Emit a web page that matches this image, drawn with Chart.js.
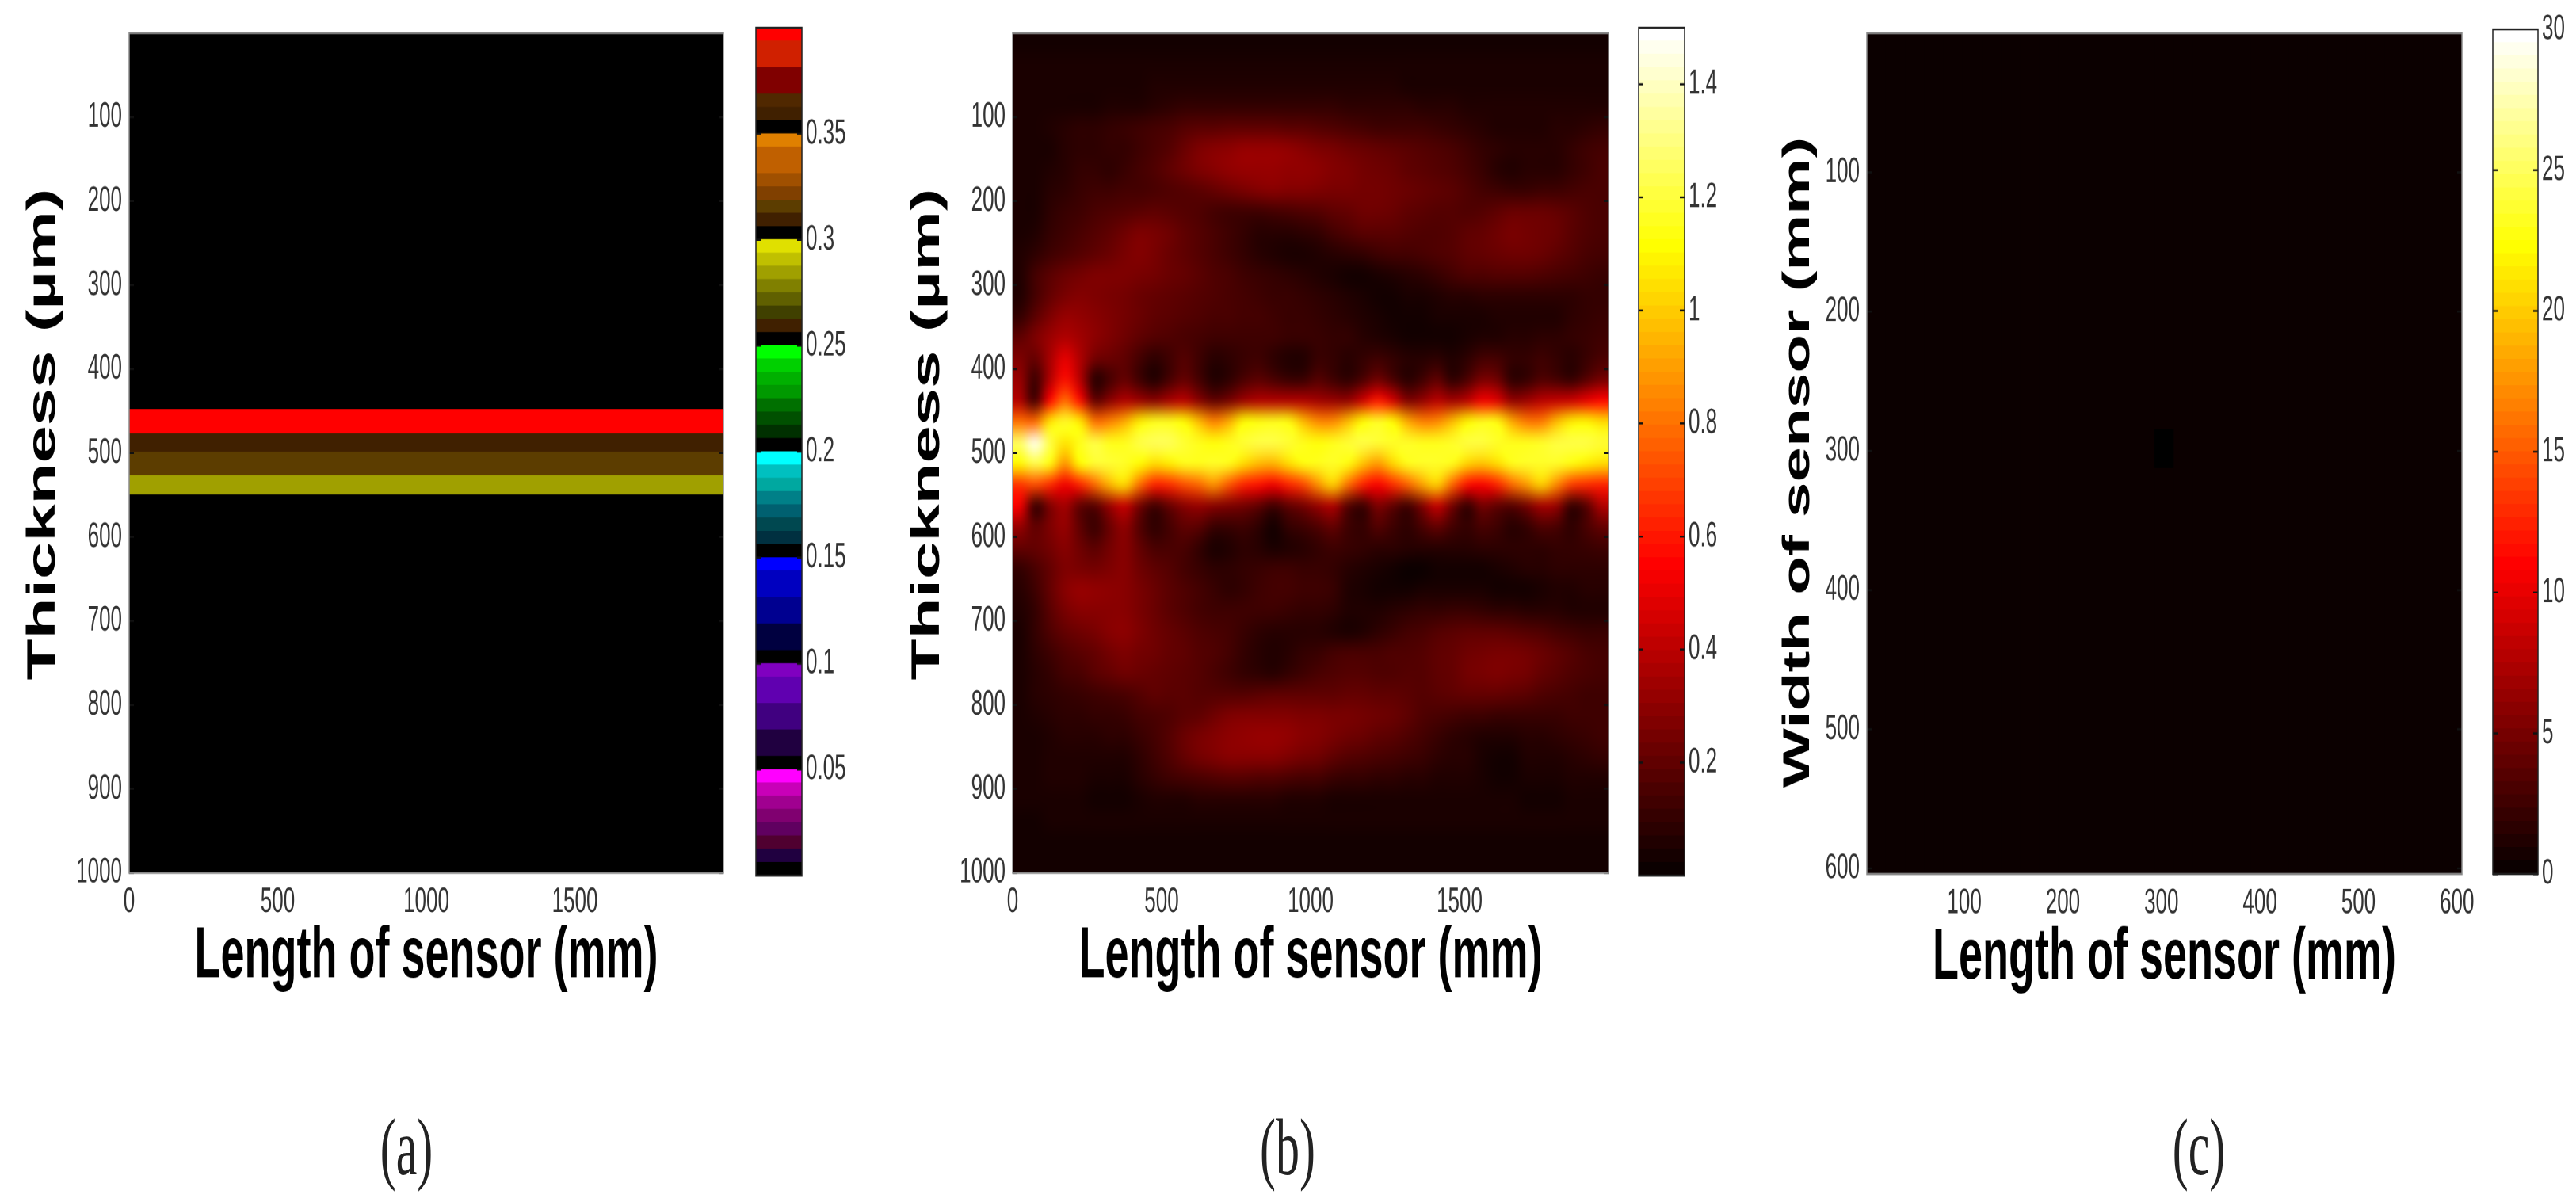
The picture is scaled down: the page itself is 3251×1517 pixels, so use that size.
<!DOCTYPE html>
<html>
<head>
<meta charset="utf-8">
<title>Sensor field maps</title>
<script src="https://cdn.jsdelivr.net/npm/chart.js@4"></script>
<style>
    html, body { margin: 0; background: #fff; overflow: hidden; }
    #figure { position: absolute; left: 0; top: 0; width: 3251px; transform-origin: 0 0; }
    #figure canvas { position: absolute; top: 0; }
    .caption { position: absolute; font: 60px "Liberation Serif", serif; color: #222; transform: translateX(-50%); line-height: 1; }
</style>
</head>
<body>
<div id="figure"></div>
<script>
// The source picture is a figure stretched vertically, so everything is drawn
// in a squashed space and the wrapper scales it back up.
const STRETCH = 1.7;

const lengthTicks = [0, 500, 1000, 1500];
const thicknessTicks = [100, 200, 300, 400, 500, 600, 700, 800, 900, 1000];
const sensorTicks = [100, 200, 300, 400, 500, 600];
const barTicksA = [0.05, 0.1, 0.15, 0.2, 0.25, 0.3, 0.35];
const barTicksB = [0.2, 0.4, 0.6, 0.8, 1, 1.2, 1.4];
const barTicksC = [0, 5, 10, 15, 20, 25, 30];

const barMaxA = 0.4;
const barMaxB = 1.5;
const barMaxC = 30;

// panel (a): colour levels of the bar, lowest value first
const levelColorsA = [
    '#000000', '#200040', '#500030', '#600060', '#800070', '#a00090', '#c800b8', '#ff00ff',
    '#000000', '#200040', '#200040', '#400080', '#400080', '#6000b0', '#6000b0', '#8000c0',
    '#000000', '#000040', '#000040', '#000090', '#000090', '#0000c0', '#0000c0', '#0000ff',
    '#000000', '#003040', '#004850', '#006070', '#008088', '#00a8a0', '#00c0c0', '#00ffff',
    '#000000', '#003000', '#005000', '#007000', '#009900', '#00b000', '#00d000', '#00ff00',
    '#000000', '#402000', '#404000', '#606000', '#808000', '#a0a000', '#c0c000', '#e0e000',
    '#000000', '#402000', '#5c3d00', '#804000', '#a05000', '#c06000', '#c06000', '#e08000',
    '#000000', '#402000', '#502800', '#800000', '#800000', '#d02000', '#d02000', '#ff0000'
];

// panel (a): horizontal bands, edges in um and the value of each band
const bandEdgesA = [0, 447, 476, 498, 526, 549, 1000];
const bandValuesA = [0.002, 0.395, 0.308, 0.314, 0.283, 0.002];

// panel (b): centre of each column (mm) and field rows,
// one row per 25 um from the top, in hundredths of the colour bar unit
const columnsB = [25, 75, 125, 175, 225, 275, 325, 375, 425, 475, 525, 575, 625, 675, 725, 775, 825, 875, 925, 975,
    1025, 1075, 1125, 1175, 1225, 1275, 1325, 1375, 1425, 1475, 1525, 1575, 1625, 1675, 1725, 1775, 1825, 1875, 1925, 1975];
const rowStepB = 25;
const fieldB = [
    [1,1,1,1,1,1,1,1,1,1,1,1,1,1,1,1,1,1,1,1,1,1,1,1,1,1,1,1,1,1,1,1,1,1,1,1,1,1,1,1],
    [2,2,2,2,2,2,2,2,2,2,2,2,2,2,2,2,2,2,2,2,2,2,2,2,2,2,2,2,2,2,2,2,2,2,2,2,2,2,2,2],
    [2,2,2,2,2,2,2,2,2,3,3,3,3,3,3,3,3,3,3,3,3,3,3,3,3,3,2,2,2,2,2,2,2,2,2,2,2,2,2,2],
    [2,2,2,2,2,2,3,3,3,4,5,6,6,6,6,6,6,6,6,6,6,6,5,5,5,5,5,4,4,4,3,3,3,3,3,3,3,3,3,3],
    [2,2,3,4,5,5,6,7,8,9,10,12,13,13,14,14,14,14,13,13,12,11,10,9,8,8,8,8,7,6,5,4,3,3,3,3,4,4,5,6],
    [2,2,2,4,5,5,6,6,8,10,12,16,20,22,23,25,25,25,24,22,20,19,17,16,15,14,13,12,11,10,8,6,5,4,4,4,4,6,8,9],
    [2,2,3,4,6,6,5,7,9,11,14,17,20,22,24,25,25,25,24,24,23,21,20,18,17,16,14,13,12,11,9,7,4,3,4,4,4,6,8,10],
    [2,2,4,5,7,8,8,9,9,10,11,12,13,15,17,19,21,22,21,21,20,19,19,18,18,17,16,15,14,13,11,9,8,7,7,8,8,9,10,10],
    [2,2,5,7,8,10,11,12,13,14,13,12,11,9,8,8,8,9,10,11,12,14,15,17,17,16,14,13,12,12,11,12,14,16,16,16,15,13,11,10],
    [2,3,6,8,10,12,14,17,20,19,17,14,12,10,8,6,4,4,4,5,6,9,11,13,13,13,12,11,11,12,14,15,17,19,18,17,16,13,11,10],
    [3,5,8,10,12,14,16,19,21,19,16,14,12,10,8,6,4,3,2,2,3,4,5,6,8,9,9,10,11,12,14,15,16,17,17,16,14,12,10,9],
    [3,9,13,16,18,20,20,20,19,18,16,15,13,11,10,8,7,6,5,4,3,2,1,1,2,3,4,5,7,9,11,11,12,12,12,11,10,9,8,7],
    [3,9,15,19,21,20,19,18,16,15,14,13,12,11,10,9,8,7,7,6,5,4,3,2,1,1,2,2,3,4,4,5,5,5,5,5,5,5,6,6],
    [6,13,20,25,24,22,20,18,16,14,13,12,11,10,10,9,9,8,7,7,6,5,4,3,2,1,1,1,2,2,2,2,3,3,3,3,3,5,6,7],
    [14,20,26,30,27,23,20,17,14,12,11,10,9,8,8,8,8,8,7,7,7,6,6,4,3,2,1,1,1,1,2,3,3,4,4,5,5,6,7,8],
    [20,15,28,42,30,18,16,14,9,5,8,12,8,4,5,7,8,5,3,3,7,6,4,6,8,6,4,4,5,3,5,9,9,6,6,8,6,4,7,10],
    [25,7,30,50,32,4,9,15,8,3,9,15,9,3,5,10,13,10,7,7,12,8,5,10,17,10,4,8,14,5,10,19,17,5,6,11,9,6,12,18],
    [30,8,48,72,50,14,22,30,26,22,28,32,22,14,18,26,30,30,30,30,27,25,24,36,52,38,20,24,32,27,32,44,40,24,26,32,34,36,42,48],
    [72,70,100,112,102,72,76,86,102,110,110,106,90,76,86,106,108,110,108,90,78,78,90,106,112,106,86,76,78,90,104,110,108,86,74,74,90,102,104,98],
    [122,145,117,100,110,117,110,110,117,120,120,114,110,107,110,114,117,117,114,110,107,110,114,117,114,112,112,110,110,112,116,116,112,110,110,112,116,117,117,114],
    [105,118,108,80,106,114,114,112,106,98,102,110,110,112,110,98,90,88,98,108,110,112,108,92,82,96,110,112,112,110,96,92,98,110,112,112,112,108,102,98],
    [58,64,56,44,54,70,88,98,72,54,56,64,70,80,66,54,50,44,54,62,80,95,72,54,46,56,68,84,95,70,50,46,54,70,82,95,78,60,56,54],
    [45,6,20,28,14,12,25,35,18,8,15,22,25,22,20,18,14,8,14,18,25,30,12,7,20,14,8,20,35,18,6,18,14,12,18,28,25,6,12,30],
    [25,14,20,25,14,7,16,24,12,5,9,14,13,7,7,8,5,1,6,8,11,15,8,6,12,8,5,10,15,9,6,10,8,4,6,11,10,5,10,15],
    [15,15,18,22,17,13,18,22,15,10,10,10,6,2,3,5,4,2,3,4,6,8,7,6,5,5,4,4,4,4,4,5,5,5,5,5,6,6,7,8],
    [6,10,15,20,19,18,20,22,17,14,12,9,7,5,5,6,7,8,8,7,7,6,4,3,2,1,0,0,1,1,1,1,2,3,4,4,5,5,5,5],
    [4,8,15,22,25,24,23,22,19,16,13,11,9,7,5,6,8,9,9,8,8,7,3,2,1,1,1,2,2,2,2,2,1,1,1,2,3,3,4,4],
    [3,6,13,19,22,22,22,22,19,16,13,11,9,8,8,8,8,8,7,6,6,5,3,3,3,4,5,6,6,7,7,6,5,5,4,4,4,3,3,3],
    [2,6,11,15,17,19,22,23,20,17,15,13,11,10,9,7,5,4,4,4,4,3,2,3,5,7,9,10,12,13,14,14,14,13,12,11,9,8,7,7],
    [2,5,8,11,13,15,18,20,18,17,15,14,12,11,9,6,4,3,4,6,7,9,10,10,10,11,11,12,14,15,17,18,19,19,18,16,14,12,10,9],
    [2,4,6,9,10,13,15,17,16,15,14,13,12,10,8,6,5,4,6,8,10,11,12,12,11,11,12,12,14,15,18,19,20,19,18,15,13,11,10,9],
    [2,4,5,6,7,8,9,10,12,14,13,13,12,12,12,12,13,14,14,14,14,14,15,15,14,14,13,12,13,14,15,15,15,14,13,11,10,9,8,8],
    [2,3,4,5,5,6,6,7,9,10,11,13,14,17,20,21,21,21,21,20,20,19,19,18,17,16,14,11,10,9,8,8,7,7,7,7,7,8,8,8],
    [2,2,3,4,4,4,5,5,7,9,12,16,19,21,23,24,25,25,24,22,21,19,17,16,14,13,11,9,7,5,4,3,3,3,4,4,5,6,7,8],
    [2,2,3,3,3,3,3,3,5,8,11,15,18,20,22,22,22,22,20,18,17,14,12,11,10,9,8,7,5,4,4,2,1,1,3,3,3,4,5,6],
    [2,2,3,3,3,2,2,2,4,6,8,9,10,11,12,12,11,11,10,9,9,7,6,6,5,5,4,4,3,3,3,2,1,1,2,2,2,3,3,3],
    [2,2,2,2,2,1,1,1,2,3,3,3,4,4,4,4,4,4,3,3,3,2,2,2,2,2,2,2,2,2,2,2,2,2,1,1,1,2,2,2],
    [1,1,2,2,2,2,2,2,2,2,2,2,2,2,2,2,2,2,2,2,2,2,2,2,2,2,2,2,2,2,2,2,2,2,2,2,2,2,2,2],
    [1,1,1,1,1,1,1,1,1,1,1,1,1,1,1,1,1,1,1,1,1,1,1,1,1,1,1,1,1,1,1,1,1,1,1,1,1,1,1,1],
    [1,1,1,1,1,1,1,1,1,1,1,1,1,1,1,1,1,1,1,1,1,1,1,1,1,1,1,1,1,1,1,1,1,1,1,1,1,1,1,1]
];

// panel (c): nearly flat field, one black cell at the centre
const columnsC = [11, 30, 50, 69, 89, 108, 128, 147, 167, 186, 206, 225, 245, 264, 284, 303,
    323, 342, 362, 381, 401, 420, 440, 459, 479, 498, 518, 537, 557, 576, 596];
const rowEdgesC = [0, 284, 312, 604];
const fieldValueC = 0;
const spotColumnC = 15;
const spotRowC = 1;

const captions = [
    { text: '(a)', x: 513 },
    { text: '(b)', x: 1625 },
    { text: '(c)', x: 2775 }
];

Chart.defaults.font.family = '"Liberation Sans", Arial, sans-serif';
Chart.defaults.font.size = 26;
Chart.defaults.color = '#333';
Chart.defaults.animation = false;
Chart.defaults.plugins.legend.display = false;
Chart.defaults.plugins.tooltip.enabled = false;

const figure = document.getElementById('figure');
figure.style.height = (1517 / STRETCH) + 'px';
figure.style.transform = `scaleY(${STRETCH})`;

// MATLAB hot map, whose first level is already a little above black
function hotColor(t) {
    const clamp = v => Math.round(255 * Math.max(0, Math.min(1, v)));
    const s = t + 1 / 64;
    return `rgb(${clamp(s / 0.375)},${clamp((s - 0.375) / 0.375)},${clamp((s - 0.75) / 0.25)})`;
}

function levelColorA(value) {
    const level = Math.floor(value / barMaxA * levelColorsA.length);
    return levelColorsA[Math.min(levelColorsA.length - 1, level)];
}

// frame and small inward ticks, the way the MATLAB axes have them
const axesFrame = {
    id: 'axesFrame',
    afterDatasetsDraw(chart, args, opts) {
        const { ctx, chartArea: a, scales } = chart;
        ctx.save();
        ctx.strokeStyle = '#111';
        ctx.lineWidth = 1.5;
        ctx.beginPath();
        scales.y.ticks.forEach(t => {
            const py = scales.y.getPixelForValue(t.value);
            ctx.moveTo(a.left, py);
            ctx.lineTo(a.left + 6, py);
            ctx.moveTo(a.right, py);
            ctx.lineTo(a.right - 6, py);
        });
        ctx.stroke();
        ctx.strokeStyle = opts.color;
        ctx.lineWidth = opts.width;
        ctx.strokeRect(a.left, a.top, a.right - a.left, a.bottom - a.top);
        ctx.restore();
    }
};

// resamples the hard cells of panel (b) so they look like interpolated shading
const smoothField = {
    id: 'smoothField',
    afterDatasetsDraw(chart) {
        const { ctx, chartArea: a } = chart;
        const r = chart.currentDevicePixelRatio;
        const cols = columnsB.length;
        const rows = fieldB.length;
        const sx = a.left * r, sy = a.top * r, sw = (a.right - a.left) * r, sh = (a.bottom - a.top) * r;
        const small = document.createElement('canvas');
        small.width = cols;
        small.height = rows;
        const sc = small.getContext('2d');
        sc.imageSmoothingEnabled = false;
        sc.drawImage(chart.canvas, sx, sy, sw, sh, 0, 0, cols, rows);
        ctx.save();
        ctx.setTransform(1, 0, 0, 1, 0, 0);
        ctx.imageSmoothingEnabled = true;
        ctx.imageSmoothingQuality = 'high';
        ctx.drawImage(small, 0, 0, cols, rows, sx, sy, sw, sh);
        ctx.restore();
    }
};

function addCanvas(left, width, height) {
    const canvas = document.createElement('canvas');
    canvas.style.left = left + 'px';
    canvas.style.width = width + 'px';
    canvas.style.height = height + 'px';
    figure.appendChild(canvas);
    return canvas;
}

function fixedTicks(list) {
    return scale => { scale.ticks = list.map(value => ({ value })); };
}

const cellBar = { barPercentage: 1, categoryPercentage: 1, borderWidth: 0, xAxisID: 'cells', yAxisID: 'y' };

function makePanel(p) {
    const axisHeight = 95;
    const height = p.bottom / STRETCH + axisHeight;
    const width = p.axisWidth + p.plotWidth + 30;
    const plugins = p.smooth ? [smoothField, axesFrame] : [axesFrame];
    return new Chart(addCanvas(p.left, width, height), {
        type: 'bar',
        data: { labels: p.labels, datasets: p.datasets },
        plugins,
        options: {
            responsive: false,
            devicePixelRatio: 2,
            layout: { padding: { top: p.top / STRETCH, right: 30 } },
            plugins: { axesFrame: { color: '#8a8a8a', width: 1.5 } },
            scales: {
                cells: { type: 'category', axis: 'x', display: false, stacked: true, offset: true },
                x: {
                    type: 'linear',
                    position: 'bottom',
                    offset: false,
                    min: p.xRange[0],
                    max: p.xRange[1],
                    grid: { display: false, drawTicks: false, offset: false },
                    border: { display: false },
                    afterBuildTicks: fixedTicks(p.xTicks),
                    afterFit: s => { s.height = axisHeight; },
                    ticks: { padding: 6, autoSkip: false, maxRotation: 0, minRotation: 0, callback: v => String(v) },
                    title: { display: true, text: 'Length of sensor (mm)', color: '#000', padding: 0,
                        font: { size: 54, weight: 'bold' } }
                },
                y: {
                    type: 'linear',
                    reverse: true,
                    stacked: true,
                    min: p.yRange[0],
                    max: p.yRange[1],
                    grid: { display: false, drawTicks: false },
                    border: { display: false },
                    afterBuildTicks: fixedTicks(p.yTicks),
                    afterFit: s => { s.width = p.axisWidth; },
                    ticks: { padding: 9, autoSkip: false, callback: v => String(v) },
                    title: { display: true, text: p.yTitle, color: '#000', padding: { top: p.titleInset },
                        font: { size: p.titleSize, weight: 'bold' } }
                }
            }
        }
    });
}

function makeColorbar(p) {
    const width = 5 + p.barWidth + 90;
    const height = 1200 / STRETCH;
    const step = p.max / p.colors.length;
    const datasets = p.colors.map(color => ({ data: [step], backgroundColor: color, barPercentage: 1, categoryPercentage: 1, borderWidth: 0 }));
    return new Chart(addCanvas(p.left - 5, width, height), {
        type: 'bar',
        data: { labels: ['level'], datasets },
        plugins: [axesFrame],
        options: {
            responsive: false,
            devicePixelRatio: 2,
            layout: { padding: { top: p.top / STRETCH, bottom: height - p.bottom / STRETCH, left: 5 } },
            plugins: { axesFrame: { color: '#222', width: 1.5 } },
            scales: {
                x: { display: false, stacked: true, offset: true },
                y: {
                    position: 'right',
                    stacked: true,
                    min: 0,
                    max: p.max,
                    grid: { display: false, drawTicks: false },
                    border: { display: false },
                    afterBuildTicks: fixedTicks(p.ticks),
                    afterFit: s => { s.width = 90; },
                    ticks: { padding: 5, autoSkip: false, callback: v => String(v) }
                }
            }
        }
    });
}

// panel (a)
makePanel({
    left: 0, axisWidth: 163, plotWidth: 750, top: 37, bottom: 1102, titleInset: 25, titleSize: 50,
    labels: ['all'],
    datasets: bandValuesA.map((value, i) => ({
        ...cellBar,
        data: [bandEdgesA[i + 1] - bandEdgesA[i]],
        backgroundColor: levelColorA(value)
    })),
    xRange: [0, 2000], yRange: [0, 1000], xTicks: lengthTicks, yTicks: thicknessTicks,
    yTitle: '  Thickness (µm)'
});
makeColorbar({ left: 954, barWidth: 58, top: 35, bottom: 1105, max: barMaxA, colors: levelColorsA, ticks: barTicksA });

// panel (b)
const hotLevels = [];
for (let i = 0; i < 64; i++) hotLevels.push(hotColor(i / 64));

makePanel({
    left: 1110, axisWidth: 168, plotWidth: 752, top: 37, bottom: 1102, titleInset: 31, titleSize: 50, smooth: true,
    labels: columnsB,
    datasets: fieldB.map(row => ({
        ...cellBar,
        data: row.map(() => rowStepB),
        // slight lift because the dark reds read low by eye
        backgroundColor: row.map(v => hotColor(Math.pow(v / 100 / barMaxB, 0.88)))
    })),
    xRange: [0, 2000], yRange: [0, 1000], xTicks: lengthTicks, yTicks: thicknessTicks,
    yTitle: '  Thickness (µm)'
});
makeColorbar({ left: 2068, barWidth: 58, top: 35, bottom: 1105, max: barMaxB, colors: hotLevels, ticks: barTicksB });

// panel (c)
makePanel({
    left: 2200, axisWidth: 156, plotWidth: 751, top: 34, bottom: 1103, titleInset: 42, titleSize: 47,
    labels: columnsC,
    datasets: rowEdgesC.slice(1).map((edge, i) => ({
        ...cellBar,
        data: columnsC.map(() => edge - rowEdgesC[i]),
        backgroundColor: columnsC.map((c, j) => (i === spotRowC && j === spotColumnC) ? '#000' : hotColor(fieldValueC / barMaxC))
    })),
    xRange: [1, 605], yRange: [0, 604], xTicks: sensorTicks, yTicks: sensorTicks,
    yTitle: 'Width of sensor (mm) '
});
makeColorbar({ left: 3146, barWidth: 57, top: 37, bottom: 1103, max: barMaxC, colors: hotLevels, ticks: barTicksC });

captions.forEach(c => {
    const el = document.createElement('div');
    el.className = 'caption';
    el.textContent = c.text;
    el.style.left = c.x + 'px';
    el.style.top = (1449 / STRETCH - 30) + 'px';
    figure.appendChild(el);
});
</script>
</body>
</html>
